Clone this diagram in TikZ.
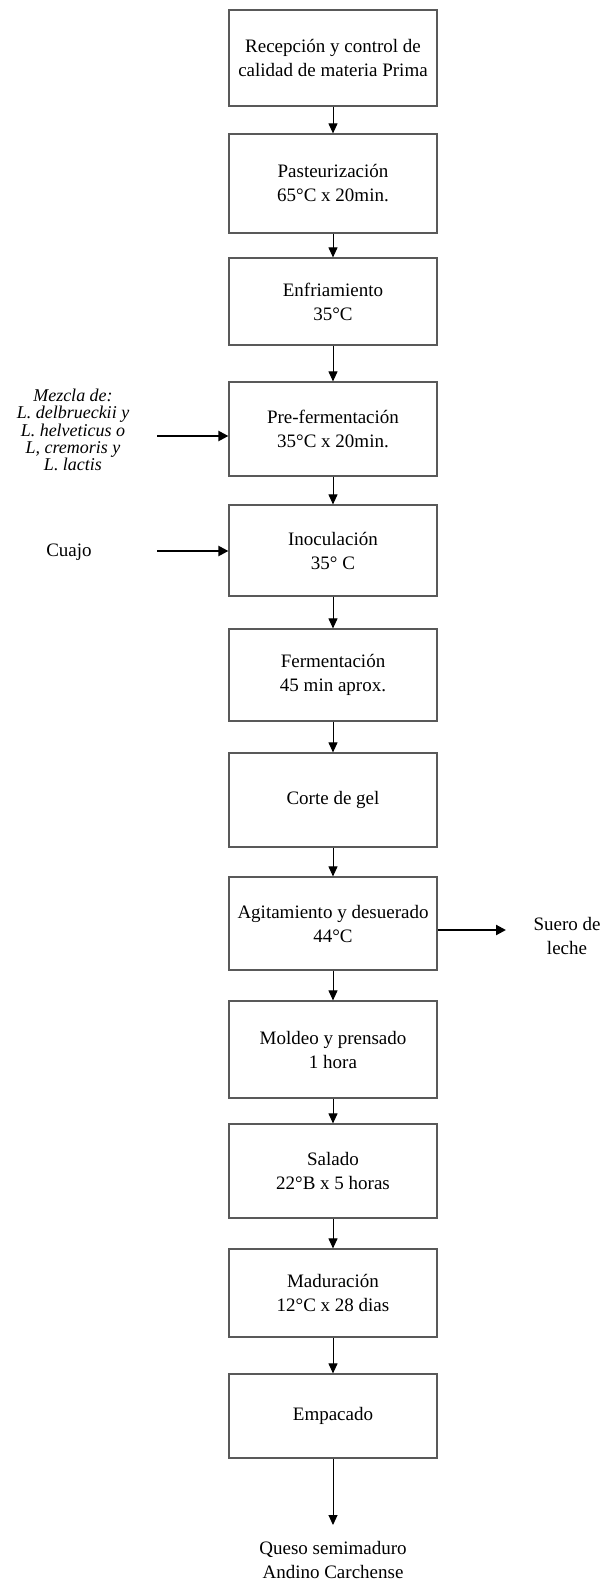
\documentclass[tikz,border=0pt]{standalone}
\usepackage{fontspec}
\setmainfont{Liberation Serif}
\usetikzlibrary{arrows.meta}
\begin{document}
\begin{tikzpicture}[x=1pt,y=-1pt,
  box/.style={draw=black!65, line width=1.2pt, minimum width=208pt, align=center, inner sep=0pt, font=\fontsize{19}{24}\selectfont},
  flow/.style={-{Triangle[length=10pt,width=9pt]}, line width=1pt},
  side/.style={-{Triangle[length=10pt,width=10pt]}, line width=2.2pt},
  lbl/.style={align=center, inner sep=0pt, font=\fontsize{19}{24}\selectfont},
  ilbl/.style={align=center, inner sep=0pt, font=\itshape\fontsize{18}{17.4}\selectfont}]
\useasboundingbox (0,0) rectangle (604,1582);
\node[box, minimum height=96pt] (b1) at (333,58) {Recepción y control de\\calidad de materia Prima};
\node[box, minimum height=99pt] (b2) at (333,183.5) {Pasteurización\\65°C x 20min.};
\node[box, minimum height=87pt] (b3) at (333,301.5) {Enfriamiento\\35°C};
\node[box, minimum height=94pt] (b4) at (333,429) {Pre-fermentación\\35°C x 20min.};
\node[box, minimum height=91pt] (b5) at (333,550.5) {Inoculación\\35° C};
\node[box, minimum height=92pt] (b6) at (333,675) {Fermentación\\45 min aprox.};
\node[box, minimum height=94pt] (b7) at (333,800) {Corte de gel};
\node[box, minimum height=93pt] (b8) at (333,923.5) {Agitamiento y desuerado\\44°C};
\node[box, minimum height=97pt] (b9) at (333,1049.5) {Moldeo y prensado\\1 hora};
\node[box, minimum height=94pt] (b10) at (333,1171) {Salado\\22°B x 5 horas};
\node[box, minimum height=88pt] (b11) at (333,1293) {Maduración\\12°C x 28 dias};
\node[box, minimum height=84pt] (b12) at (333,1416) {Empacado};
\node[lbl] (out) at (333,1560) {Queso semimaduro\\Andino Carchense};
\coordinate (e12) at (333,1525);
\foreach \a/\b in {b1/b2,b2/b3,b3/b4,b4/b5,b5/b6,b6/b7,b7/b8,b8/b9,b9/b10,b10/b11,b11/b12}
  \draw[flow] (\a.south) -- (\b.north);
\draw[flow] (b12.south) -- (e12);
\node[ilbl] (mez) at (73,430) {Mezcla de:\\L. delbrueckii y\\L. helveticus o\\L, cremoris y\\L. lactis};
\node[lbl] (cua) at (69,552) {Cuajo};
\node[lbl] (sue) at (567,936) {Suero de\\leche};
\coordinate (m0) at (157,436);
\coordinate (c0) at (157,551);
\coordinate (s0) at (506,930);
\draw[side] (m0) -- (m0 -| b4.west);
\draw[side] (c0) -- (c0 -| b5.west);
\draw[side] (s0 -| b8.east) -- (s0);
\end{tikzpicture}
\end{document}
